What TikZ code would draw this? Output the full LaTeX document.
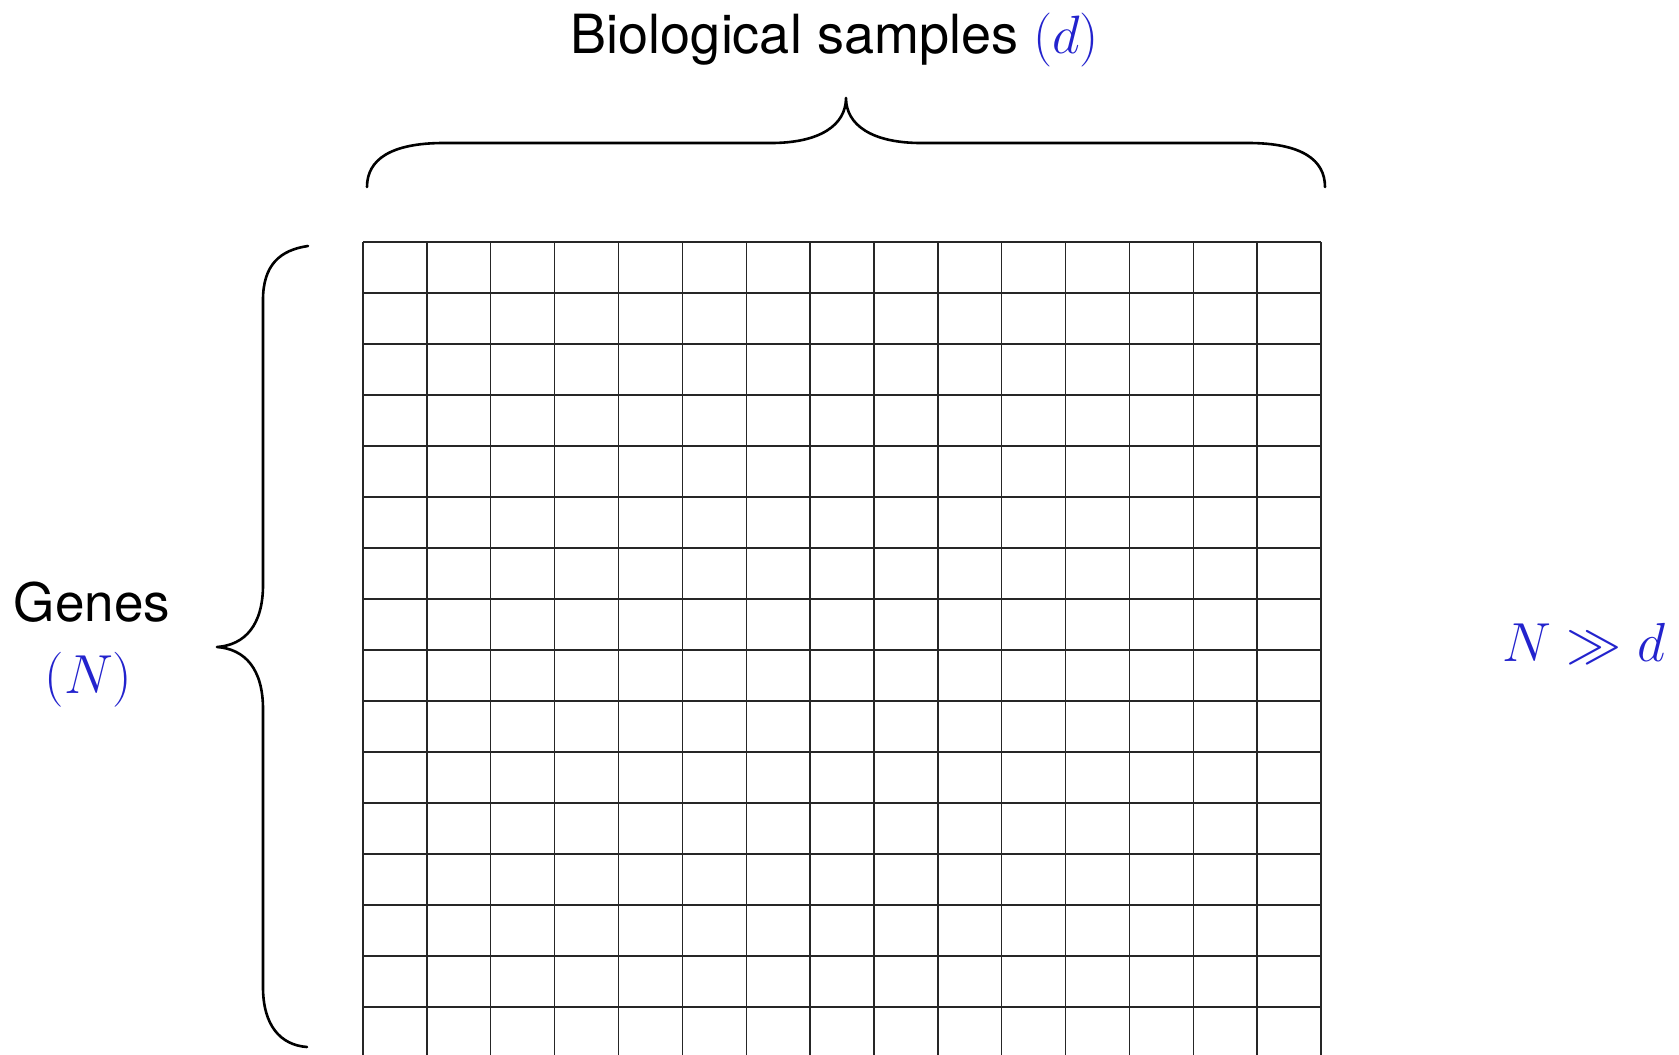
\documentclass[tikz,border=0pt]{standalone}
\usepackage{fix-cm}
\usepackage{fontspec}
\setmainfont{TeX Gyre Heros}
\definecolor{mblue}{RGB}{35,35,205}
\tikzset{
  gridline/.style={draw=black!85, line width=1.4pt},
  bracepath/.style={draw=black, line width=2.6pt, line cap=round, line join=round},
  lbl/.style={anchor=base, inner sep=0pt, font=\fontsize{53}{60}\selectfont},
  mlbl/.style={anchor=base, inner sep=0pt, text=mblue, font=\fontsize{55}{62}\selectfont}
}
\begin{document}
\begin{tikzpicture}[x=1pt,y=-1pt]
\useasboundingbox (0,0) rectangle (1679,1055);
% grid
\foreach \i in {0,...,15} {
  \draw[gridline] ({363+\i*63.87},242) -- ({363+\i*63.87},1055);
}
\foreach \j in {0,...,15} {
  \draw[gridline] (363,{242+\j*51}) -- (1321,{242+\j*51});
}
% top brace
\draw[bracepath] (367,187) .. controls (367,160) and (390,143) .. (444,143) -- (771,143)
  .. controls (820,143) and (846,125) .. (846,98)
  .. controls (846,125) and (872,143) .. (921,143) -- (1248,143)
  .. controls (1302,143) and (1325,160) .. (1325,187);
% left brace
\draw[bracepath] (308,246) .. controls (280,250) and (263,265) .. (263,300) -- (263,585)
  .. controls (263,625) and (245,645) .. (217,647)
  .. controls (245,649) and (263,669) .. (263,709) -- (263,987)
  .. controls (263,1025) and (280,1045) .. (307,1047);
% labels
\node[lbl, font=\fontsize{54}{60}\selectfont] (samples) at (835,53.5) {Biological samples \textcolor{mblue}{$(d)$}};
\node[lbl] (genes) at (92,621) {Genes};
\node[mlbl] (Nlab) at (88.5,693) {$(N)$};
\node[mlbl] (rel) at (1584,661) {$N \gg d$};
\end{tikzpicture}
\end{document}
